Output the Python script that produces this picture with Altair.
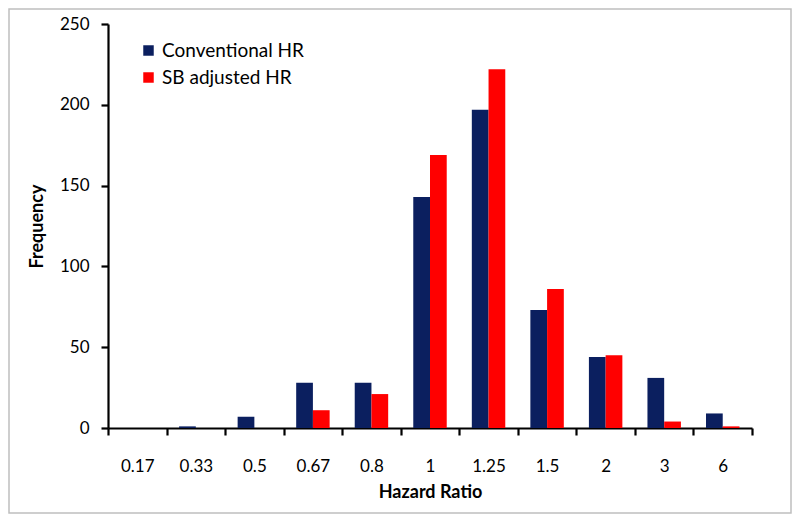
import altair as alt
import pandas as pd

categories = ["0.17", "0.33", "0.5", "0.67", "0.8", "1", "1.25", "1.5", "2", "3", "6"]
conventional = [0, 1, 7, 28, 28, 143, 197, 73, 44, 31, 9]
sb_adjusted = [0, 0, 0, 11, 21, 169, 222, 86, 45, 4, 1]
series_names = ["Conventional HR", "SB adjusted HR"]
series_colors = ["#0B1F5F", "#FF0000"]

rows = []
for c, v1, v2 in zip(categories, conventional, sb_adjusted):
    rows.append({"hr": c, "series": series_names[0], "freq": v1})
    rows.append({"hr": c, "series": series_names[1], "freq": v2})
df = pd.DataFrame(rows)

FONT = "Lato"

bars = alt.Chart(df).mark_bar().encode(
    x=alt.X("hr:N", sort=categories,
            scale=alt.Scale(paddingInner=0, paddingOuter=0),
            axis=alt.Axis(title="Hazard Ratio", labelAngle=0, tickBand="extent",
                          labelPadding=23, titlePadding=9)),
    xOffset=alt.XOffset("series:N", sort=series_names,
                        scale=alt.Scale(paddingInner=0, paddingOuter=0.75)),
    y=alt.Y("freq:Q", scale=alt.Scale(domain=[0, 250], nice=False),
            axis=alt.Axis(title="Frequency", values=[0, 50, 100, 150, 200, 250],
                          grid=False, labelPadding=12, titlePadding=13)),
    color=alt.Color("series:N", sort=series_names,
                    scale=alt.Scale(domain=series_names, range=series_colors),
                    legend=alt.Legend(title=None, orient="none", legendX=31, legendY=17,
                                      symbolType="square", symbolSize=110,
                                      symbolStrokeWidth=0, labelFontSize=19,
                                      labelFont=FONT, rowPadding=7, labelOffset=4,
                                      labelColor="#000000")),
)

border = alt.Chart(pd.DataFrame({"a": [0]})).mark_rect(
    fill=None, stroke="#BFBFBF", strokeWidth=1.5
).encode(
    x=alt.value(-99), x2=alt.value(683), y=alt.value(-15), y2=alt.value(489)
)

chart = alt.layer(border, bars).properties(
    width=644, height=404,
    autosize=alt.AutoSizeParams(type="none"),
    padding={"left": 100, "top": 16, "right": 40, "bottom": 87},
).configure_view(stroke=None).configure_axis(
    domainColor="#000000", domainWidth=2.2, tickColor="#000000", tickWidth=2.2,
    tickSize=7, labelFont=FONT, labelFontSize=17, labelColor="#000000",
    titleFont=FONT, titleFontSize=18, titleFontWeight="bold", titleColor="#000000",
)

chart.save("out.html", embed_options={"renderer": "svg", "actions": False})
